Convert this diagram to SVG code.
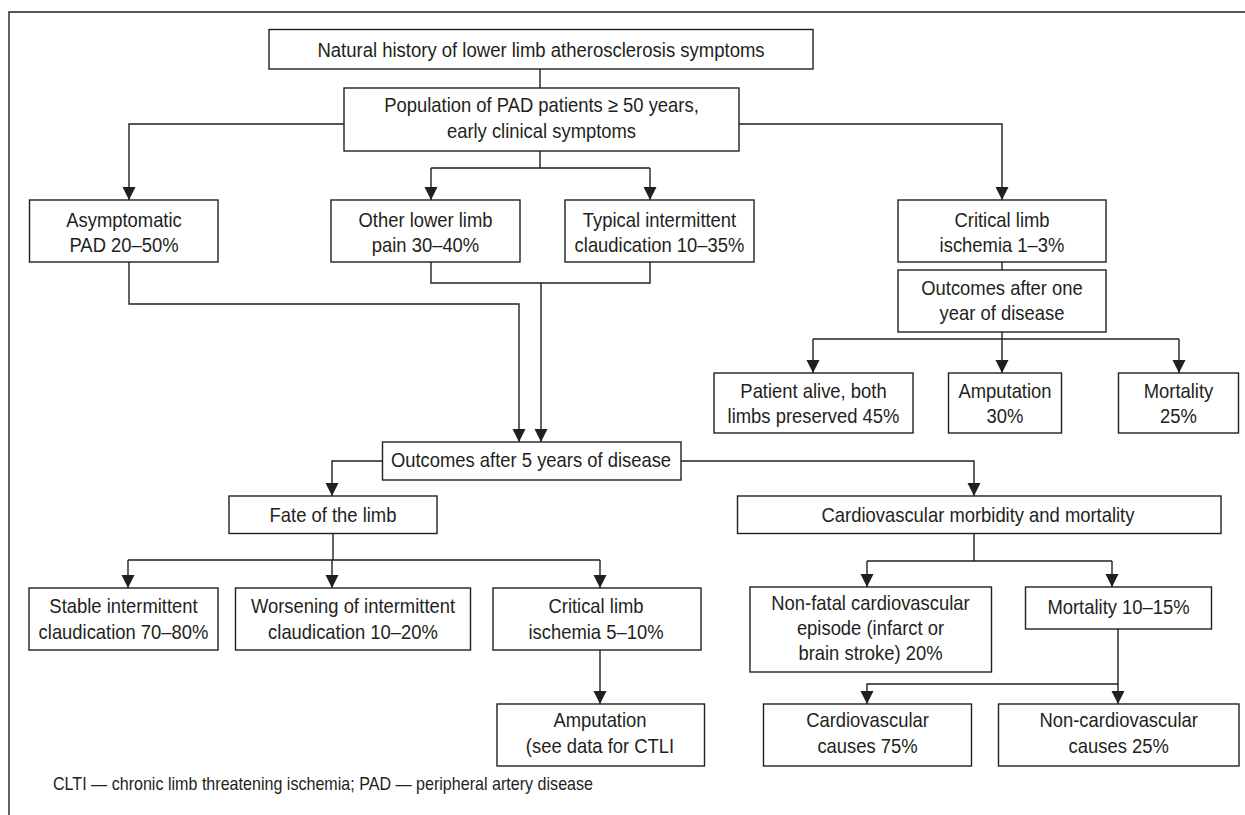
<svg xmlns="http://www.w3.org/2000/svg" width="1245" height="815" viewBox="0 0 1245 815">
  <style>
    .box { fill: #ffffff; stroke: #231f20; stroke-width: 1.4; }
    .lbl { font-family: "Liberation Sans", Arial, sans-serif; font-size: 20.5px; fill: #231f20; text-anchor: middle; }
    .note { font-family: "Liberation Sans", Arial, sans-serif; font-size: 19px; fill: #231f20; }
    .wire { fill: none; stroke: #231f20; stroke-width: 1.4; }
    .frame { fill: none; stroke: #231f20; stroke-width: 1.4; }
  </style>
  <defs>
    <marker id="arrow" markerUnits="userSpaceOnUse" markerWidth="14" markerHeight="14" viewBox="0 0 14 14" refX="13" refY="7" orient="auto">
      <path d="M0,0.5 L13,7 L0,13.5 Z" fill="#231f20"/>
    </marker>
  </defs>

  <rect width="1245" height="815" fill="#ffffff"/>
  <path class="frame" d="M9,815 V12 H1245"/>

  <!-- connectors -->
  <g id="connectors" class="wire">
    <path d="M540,69 V88"/>
    <path d="M344,124 H129 V200" marker-end="url(#arrow)"/>
    <path d="M739,124 H1002 V200" marker-end="url(#arrow)"/>
    <path d="M540,151 V168"/>
    <path d="M431,168 H650"/>
    <path d="M431,168 V200" marker-end="url(#arrow)"/>
    <path d="M650,168 V200" marker-end="url(#arrow)"/>
    <path d="M1002,262 V270"/>
    <path d="M1002,332 V373" marker-end="url(#arrow)"/>
    <path d="M813,339 H1179"/>
    <path d="M813,339 V373" marker-end="url(#arrow)"/>
    <path d="M1179,339 V373" marker-end="url(#arrow)"/>
    <path d="M129,262 V304 H519 V442" marker-end="url(#arrow)"/>
    <path d="M431,262 V283 H650 V262"/>
    <path d="M541,283 V442" marker-end="url(#arrow)"/>
    <path d="M382,461 H332 V496" marker-end="url(#arrow)"/>
    <path d="M681,461 H974 V496" marker-end="url(#arrow)"/>
    <path d="M333,533 V560"/>
    <path d="M128,560 H600"/>
    <path d="M128,560 V588" marker-end="url(#arrow)"/>
    <path d="M332,560 V588" marker-end="url(#arrow)"/>
    <path d="M600,560 V588" marker-end="url(#arrow)"/>
    <path d="M600,650 V704" marker-end="url(#arrow)"/>
    <path d="M974,533 V561"/>
    <path d="M867,561 H1112"/>
    <path d="M867,561 V587" marker-end="url(#arrow)"/>
    <path d="M1112,561 V587" marker-end="url(#arrow)"/>
    <path d="M1118,629 V704" marker-end="url(#arrow)"/>
    <path d="M1118,684 H867 V704" marker-end="url(#arrow)"/>
  </g>

  <!-- nodes (labels are drawn narrow with a horizontal scale) -->
  <g id="title">
    <rect class="box" x="269" y="29.5" width="544" height="39.5"/>
    <text class="lbl" transform="translate(541,57) scale(0.903,1)">Natural history of lower limb atherosclerosis symptoms</text>
  </g>
  <g id="population">
    <rect class="box" x="344" y="88" width="395" height="63"/>
    <text class="lbl" transform="translate(541.5,112) scale(0.898,1)">Population of PAD patients ≥ 50 years,</text>
    <text class="lbl" transform="translate(541.5,138) scale(0.898,1)">early clinical symptoms</text>
  </g>
  <g id="asymptomatic">
    <rect class="box" x="29.5" y="200" width="188.5" height="62"/>
    <text class="lbl" transform="translate(124,227) scale(0.898,1)">Asymptomatic</text>
    <text class="lbl" transform="translate(124,252) scale(0.898,1)">PAD 20–50%</text>
  </g>
  <g id="other-pain">
    <rect class="box" x="331" y="200" width="189" height="62"/>
    <text class="lbl" transform="translate(425.5,227) scale(0.898,1)">Other lower limb</text>
    <text class="lbl" transform="translate(425.5,252) scale(0.898,1)">pain 30–40%</text>
  </g>
  <g id="typical-ic">
    <rect class="box" x="565" y="200" width="189" height="62"/>
    <text class="lbl" transform="translate(659.5,227) scale(0.898,1)">Typical intermittent</text>
    <text class="lbl" transform="translate(659.5,252) scale(0.898,1)">claudication 10–35%</text>
  </g>
  <g id="cli-1-3">
    <rect class="box" x="898" y="200" width="208" height="62"/>
    <text class="lbl" transform="translate(1002,227) scale(0.898,1)">Critical limb</text>
    <text class="lbl" transform="translate(1002,252) scale(0.898,1)">ischemia 1–3%</text>
  </g>
  <g id="outcomes-1y">
    <rect class="box" x="898" y="270" width="208" height="62"/>
    <text class="lbl" transform="translate(1002,295) scale(0.898,1)">Outcomes after one</text>
    <text class="lbl" transform="translate(1002,320) scale(0.898,1)">year of disease</text>
  </g>
  <g id="alive">
    <rect class="box" x="714" y="373" width="199" height="60"/>
    <text class="lbl" transform="translate(813.5,398) scale(0.898,1)">Patient alive, both</text>
    <text class="lbl" transform="translate(813.5,423) scale(0.898,1)">limbs preserved 45%</text>
  </g>
  <g id="amputation-30">
    <rect class="box" x="948.5" y="373" width="113" height="60"/>
    <text class="lbl" transform="translate(1005,398) scale(0.898,1)">Amputation</text>
    <text class="lbl" transform="translate(1005,423) scale(0.898,1)">30%</text>
  </g>
  <g id="mortality-25">
    <rect class="box" x="1118.5" y="373" width="120" height="60"/>
    <text class="lbl" transform="translate(1178.5,398) scale(0.898,1)">Mortality</text>
    <text class="lbl" transform="translate(1178.5,423) scale(0.898,1)">25%</text>
  </g>
  <g id="outcomes-5y">
    <rect class="box" x="382.5" y="442" width="298.5" height="38"/>
    <text class="lbl" transform="translate(531,467) scale(0.898,1)">Outcomes after 5 years of disease</text>
  </g>
  <g id="fate">
    <rect class="box" x="229" y="496" width="208" height="37.5"/>
    <text class="lbl" transform="translate(333,522) scale(0.898,1)">Fate of the limb</text>
  </g>
  <g id="cv-morbidity">
    <rect class="box" x="737.5" y="496" width="483.5" height="37.5"/>
    <text class="lbl" transform="translate(978,522) scale(0.898,1)">Cardiovascular morbidity and mortality</text>
  </g>
  <g id="stable-ic">
    <rect class="box" x="29" y="588" width="189" height="62"/>
    <text class="lbl" transform="translate(123.5,613) scale(0.898,1)">Stable intermittent</text>
    <text class="lbl" transform="translate(123.5,639) scale(0.898,1)">claudication 70–80%</text>
  </g>
  <g id="worsening-ic">
    <rect class="box" x="235.5" y="588" width="235" height="62"/>
    <text class="lbl" transform="translate(353,613) scale(0.898,1)">Worsening of intermittent</text>
    <text class="lbl" transform="translate(353,639) scale(0.898,1)">claudication 10–20%</text>
  </g>
  <g id="cli-5-10">
    <rect class="box" x="493" y="588" width="208" height="62"/>
    <text class="lbl" transform="translate(596,613) scale(0.898,1)">Critical limb</text>
    <text class="lbl" transform="translate(596,639) scale(0.898,1)">ischemia 5–10%</text>
  </g>
  <g id="amputation-ctli">
    <rect class="box" x="497" y="704" width="207.5" height="62"/>
    <text class="lbl" transform="translate(600,727) scale(0.898,1)">Amputation</text>
    <text class="lbl" transform="translate(600,753) scale(0.898,1)">(see data for CTLI</text>
  </g>
  <g id="nonfatal">
    <rect class="box" x="750" y="587" width="241.5" height="85"/>
    <text class="lbl" transform="translate(870.5,610) scale(0.898,1)">Non-fatal cardiovascular</text>
    <text class="lbl" transform="translate(870.5,635) scale(0.898,1)">episode (infarct or</text>
    <text class="lbl" transform="translate(870.5,660) scale(0.898,1)">brain stroke) 20%</text>
  </g>
  <g id="mortality-10-15">
    <rect class="box" x="1025.5" y="587" width="186" height="42"/>
    <text class="lbl" transform="translate(1118.5,614) scale(0.898,1)">Mortality 10–15%</text>
  </g>
  <g id="cv-causes">
    <rect class="box" x="763.5" y="704" width="208" height="62"/>
    <text class="lbl" transform="translate(867.5,727) scale(0.898,1)">Cardiovascular</text>
    <text class="lbl" transform="translate(867.5,753) scale(0.898,1)">causes 75%</text>
  </g>
  <g id="noncv-causes">
    <rect class="box" x="998.5" y="704" width="240.5" height="62"/>
    <text class="lbl" transform="translate(1118.7,727) scale(0.898,1)">Non-cardiovascular</text>
    <text class="lbl" transform="translate(1118.7,753) scale(0.898,1)">causes 25%</text>
  </g>

  <text class="note" x="53" y="790" textLength="540" lengthAdjust="spacingAndGlyphs">CLTI — chronic limb threatening ischemia; PAD — peripheral artery disease</text>
</svg>
